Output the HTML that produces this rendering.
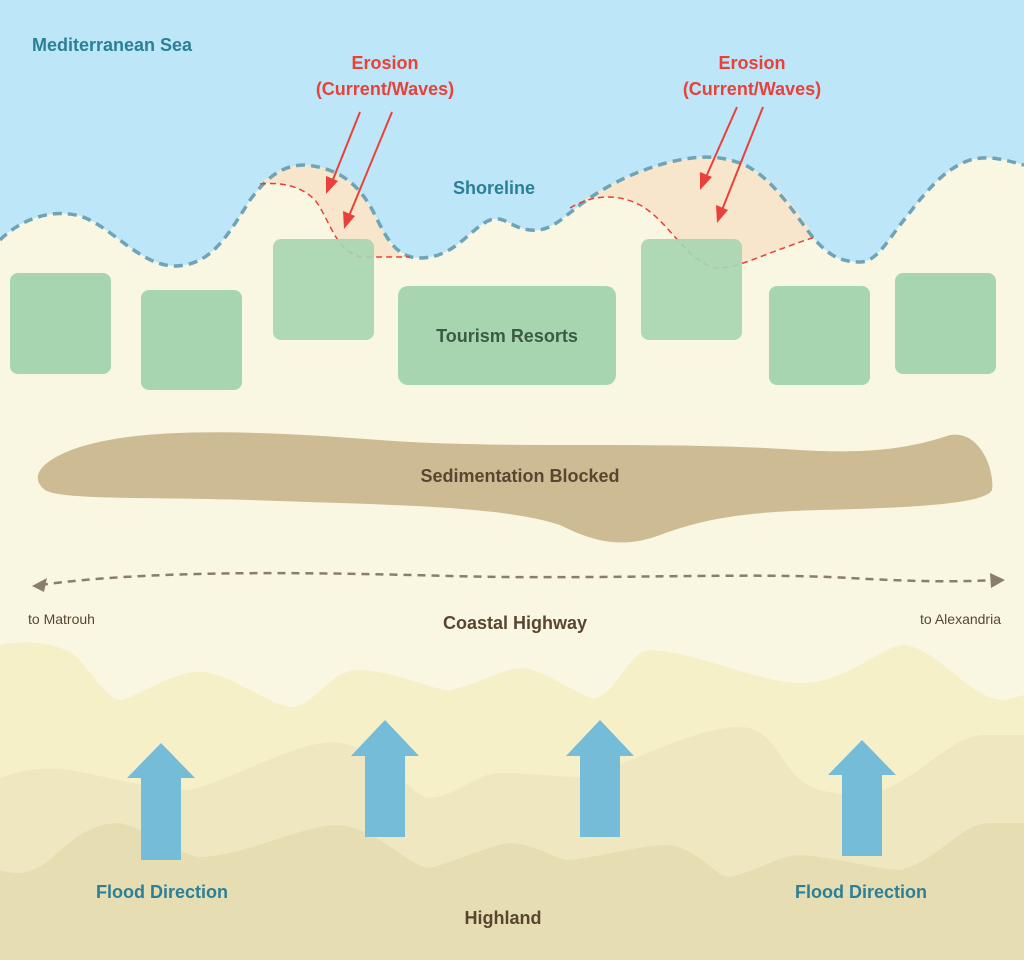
<!DOCTYPE html>
<html><head><meta charset="utf-8"><style>
html,body{margin:0;padding:0;background:#f9f7e2;}
svg{display:block}
text{font-family:"Liberation Sans",sans-serif;font-weight:bold;}
</style></head><body>
<svg width="1024" height="960" viewBox="0 0 1024 960" xmlns="http://www.w3.org/2000/svg">
<rect width="1024" height="960" fill="#f9f7e2"/>
<path d="M0,0 H1024 V165 C1005,160 990,155 970,160 C940,170 920,200 900,225 C885,245 875,262 860,262 C835,262 825,250 815,240 C795,215 775,180 745,165 C720,155 700,155 670,162 C630,172 600,190 580,205 C560,220 550,232 530,230 C510,228 505,215 490,220 C470,228 455,258 420,258 C395,258 385,235 375,215 C360,185 340,168 305,165 C280,165 265,180 250,200 C225,240 210,265 175,266 C140,266 110,225 80,216 C50,208 20,220 0,240 Z" fill="#bde7f8"/>
<path d="M260,184 C280,182 300,185 315,200 C330,220 335,250 360,257 L410,257 C395,258 385,235 375,215 C360,185 340,168 305,165 C285,165 270,175 260,184 Z" fill="#f8e6cc"/>
<path d="M570,208 C590,196 615,192 640,205 C670,222 685,260 715,268 C735,270 760,255 815,237 C800,215 780,182 745,165 C720,155 700,155 670,162 C630,172 600,190 570,208 Z" fill="#f8e6cc"/>
<path d="M0,240 C20,220 50,208 80,216 C110,225 140,266 175,266 C210,265 225,240 250,200 C265,180 280,165 305,165 C340,168 360,185 375,215 C385,235 395,258 420,258 C455,258 470,228 490,220 C505,215 510,228 530,230 C550,232 560,220 580,205 C600,190 630,172 670,162 C700,155 720,155 745,165 C775,180 795,215 815,240 C825,250 835,262 860,262 C875,262 885,245 900,225 C920,200 940,170 970,160 C990,155 1005,160 1024,165" fill="none" stroke="#6fa3b8" stroke-width="3.5" stroke-dasharray="9,6"/>
<path d="M260,184 C280,182 300,185 315,200 C330,220 335,250 360,257 L410,257" fill="none" stroke="#e8413a" stroke-width="1.5" stroke-dasharray="6,4"/>
<path d="M570,208 C590,196 615,192 640,205 C670,222 685,260 715,268 C735,270 760,255 815,237" fill="none" stroke="#e8413a" stroke-width="1.5" stroke-dasharray="6,4"/>
<g fill="#a6d5b0">
<rect x="10" y="273" width="101" height="101" rx="8"/>
<rect x="141" y="290" width="101" height="100" rx="8"/>
<rect x="273" y="239" width="101" height="101" rx="8" opacity="0.9"/>
<rect x="398" y="286" width="218" height="99" rx="10"/>
<rect x="641" y="239" width="101" height="101" rx="8" opacity="0.9"/>
<rect x="769" y="286" width="101" height="99" rx="8"/>
<rect x="895" y="273" width="101" height="101" rx="8"/>
</g>
<g stroke="#e8413a" stroke-width="2" fill="#e8413a">
<line x1="360" y1="112" x2="332" y2="182"/><polygon points="326,194 326,176 338,181" stroke="none"/>
<line x1="392" y1="112" x2="349" y2="216"/><polygon points="344,229 343,211 355,216" stroke="none"/>
<line x1="737" y1="107" x2="706" y2="177"/><polygon points="700,190 700,172 712,177" stroke="none"/>
<line x1="763" y1="107" x2="722" y2="210"/><polygon points="717,223 716,205 728,210" stroke="none"/>
</g>
<path d="M60,455 C120,425 250,430 380,440 C520,450 650,440 800,450 C880,455 920,445 950,435 C980,430 995,470 992,490 C985,505 900,508 820,510 C740,512 700,520 660,535 C620,550 590,540 560,525 C500,505 380,505 250,500 C150,497 60,500 45,490 C30,478 40,465 60,455 Z" fill="#cdbb93"/>
<path d="M40,585 C150,570 300,572 450,576 C600,580 750,572 850,578 C920,582 960,582 995,580" fill="none" stroke="#8a7e6a" stroke-width="2.5" stroke-dasharray="8,6"/>
<polygon points="32,586 47,578 44,592" fill="#8a7e6a"/>
<polygon points="1005,580 990,573 991,588" fill="#8a7e6a"/>
<path d="M0,645 C20,640 60,640 80,660 C100,685 110,700 122,700 C140,695 180,668 205,672 C240,678 270,707 295,707 C320,700 330,670 360,670 C400,672 430,690 450,690 C480,685 500,668 525,668 C555,675 580,698 595,698 C615,695 630,650 650,650 C690,650 760,683 800,683 C850,683 880,645 905,645 C940,650 970,700 1005,700 L1024,695 V960 H0 Z" fill="#f6f0c8"/>
<path d="M0,778 C20,770 50,765 80,772 C120,780 160,790 190,790 C230,780 290,745 330,742 C380,742 410,798 430,798 C460,795 475,773 500,773 C530,773 560,777 580,777 C620,770 690,727 740,727 C780,727 780,780 820,790 C840,795 860,797 870,795 C920,780 950,735 985,735 L1024,735 V960 H0 Z" fill="#efe7c0"/>
<path d="M0,870 C15,875 30,875 50,860 C80,830 100,823 120,823 C150,830 180,855 200,857 C250,855 300,825 340,825 C380,830 410,868 430,868 C460,860 490,845 510,843 C540,845 555,860 570,860 C610,855 640,845 670,845 C700,850 715,877 730,877 C760,870 780,855 800,855 C840,858 880,870 900,870 C940,860 960,823 990,823 L1024,823 V960 H0 Z" fill="#e6ddb3"/>
<g fill="#74bcd8">
<polygon points="161,743 195,778 181,778 181,860 141,860 141,778 127,778"/>
<polygon points="385,720 419,756 405,756 405,837 365,837 365,756 351,756"/>
<polygon points="600,720 634,756 620,756 620,837 580,837 580,756 566,756"/>
<polygon points="862,740 896,775 882,775 882,856 842,856 842,775 828,775"/>
</g>
<text x="32" y="51" font-size="18" fill="#2b7f96">Mediterranean Sea</text>
<text x="385" y="69" font-size="18" fill="#e8413a" text-anchor="middle">Erosion</text>
<text x="385" y="95" font-size="18" fill="#e8413a" text-anchor="middle">(Current/Waves)</text>
<text x="752" y="69" font-size="18" fill="#e8413a" text-anchor="middle">Erosion</text>
<text x="752" y="95" font-size="18" fill="#e8413a" text-anchor="middle">(Current/Waves)</text>
<text x="494" y="194" font-size="18" fill="#2b7f96" text-anchor="middle">Shoreline</text>
<text x="507" y="342" font-size="18" fill="#3d5a45" text-anchor="middle">Tourism Resorts</text>
<text x="520" y="482" font-size="18" fill="#5a4630" text-anchor="middle">Sedimentation Blocked</text>
<text x="28" y="624" font-size="14" fill="#5a4630" style="font-weight:normal">to Matrouh</text>
<text x="515" y="629" font-size="18" fill="#5a4630" text-anchor="middle">Coastal Highway</text>
<text x="1001" y="624" font-size="14" fill="#5a4630" style="font-weight:normal" text-anchor="end">to Alexandria</text>
<text x="162" y="898" font-size="18" fill="#2b7f96" text-anchor="middle">Flood Direction</text>
<text x="861" y="898" font-size="18" fill="#2b7f96" text-anchor="middle">Flood Direction</text>
<text x="503" y="924" font-size="18" fill="#5a4630" text-anchor="middle">Highland</text>
</svg>
</body></html>
